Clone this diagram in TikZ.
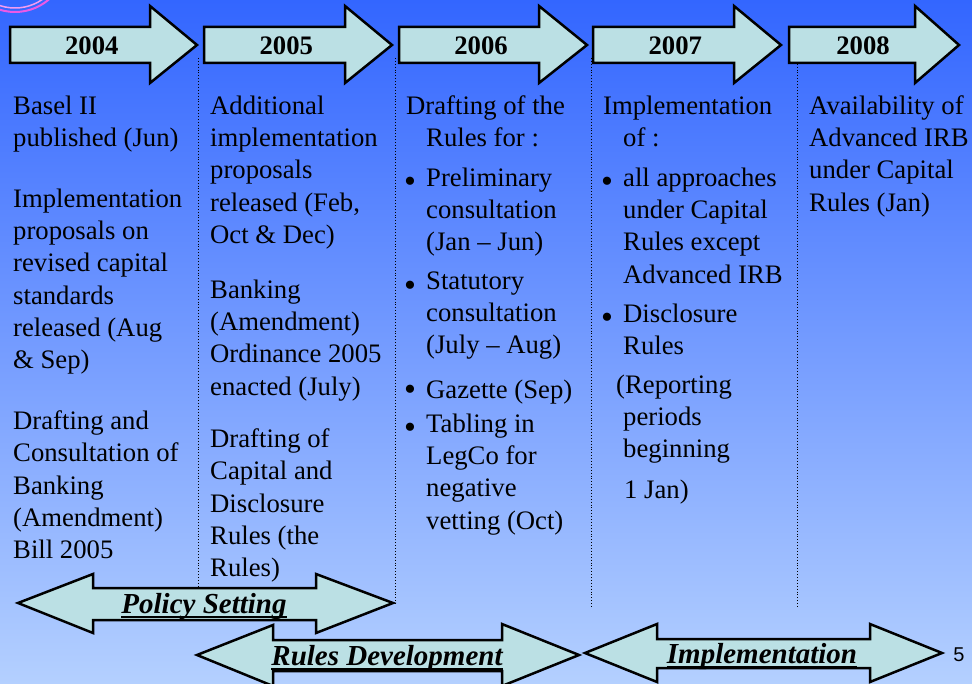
\documentclass[tikz,border=0pt]{standalone}
\usepackage{fontspec}
\setmainfont{Liberation Serif}
\setsansfont{Liberation Sans}
\usepackage{tikz}
\usetikzlibrary{positioning}

\definecolor{bgtop}{RGB}{51,102,255}
\definecolor{bgbottom}{RGB}{180,208,255}
\definecolor{arrowcol}{RGB}{187,224,228}
\definecolor{swirl}{RGB}{235,90,230}

% thick underline for the phase labels
\newcommand{\phaseul}[1]{\setbox0\hbox{#1}\rlap{\rule[-4.5pt]{\wd0}{1.8pt}}\box0}

\tikzset{
  arrowbox/.style={fill=arrowcol, draw=black, line width=2.5pt, line join=miter},
  yearlbl/.style={inner sep=0pt, font=\bfseries\fontsize{26.7}{32}\selectfont},
  txt/.style={anchor=north west, yshift=17.6pt, inner sep=0pt, align=left,
    font=\fontsize{26.7}{32.3}\selectfont, execute at begin node=\strut},
  bul/.style={txt, font=\fontsize{34}{32.3}\selectfont, yshift=-2pt},
  phase/.style={anchor=base, inner sep=0pt, font=\bfseries\itshape\fontsize{29}{32}\selectfont},
  sepline/.style={dotted, line width=0.9pt},
}

\begin{document}
\begin{tikzpicture}[x=1pt,y=-1pt]
  \useasboundingbox (0,0) rectangle (972,684);
  \shade[top color=bgtop, bottom color=bgbottom] (0,0) rectangle (972,684);
  \begin{scope}
    \clip (0,0) rectangle (972,684);
    \draw[swirl, line width=2pt] (15,-40) circle (52);
    \draw[swirl!60, line width=1.5pt] (15,-40) circle (48);
  \end{scope}

  % column separators
  \draw[sepline] (198,58) -- (198,588);
  \draw[sepline] (395,58) -- (395,604);
  \draw[sepline] (591,58) -- (591,607);
  \draw[sepline] (797,58) -- (797,607);

  % year arrows
  \foreach \x/\hb/\tip/\yr in {10/150/197/2004, 204/345/392/2005, 399/539/587/2006,
                              593/734/781/2007, 789/915/959/2008} {
    \draw[arrowbox] (\x,27) -- (\hb,27) -- (\hb,6) -- (\tip,45) -- (\hb,83)
      -- (\hb,63) -- (\x,63) -- cycle;
    \node[yearlbl] (y\yr) at ({(\x+(\hb+\tip)/2)/2},46) {\yr};
  }

  % 2004
  \node[txt] (c1a) at (13,113) {Basel II\\published (Jun)};
  \node[txt] (c1b) at (13,206) {Implementation\\proposals on\\revised capital\\standards\\released (Aug\\\& Sep)};
  \node[txt] (c1c) at (13,428) {Drafting and\\Consultation of\\Banking\\(Amendment)\\Bill 2005};

  % 2005
  \node[txt] (c2a) at (210,113) {Additional\\implementation\\proposals\\released (Feb,\\Oct \& Dec)};
  \node[txt] (c2b) at (210,297) {Banking\\(Amendment)\\Ordinance 2005\\enacted (July)};
  \node[txt] (c2c) at (210,446) {Drafting of\\Capital and\\Disclosure\\Rules (the\\Rules)};

  % 2006
  \node[txt] (c3a) at (406,113) {Drafting of the\\\hspace{20pt}Rules for :};
  \node[bul] (b3a) at (404,185) {•};
  \node[txt] (c3b) at (426,185) {Preliminary\\consultation\\(Jan – Jun)};
  \node[bul] (b3b) at (404,289) {•};
  \node[txt] (c3c) at (426,289) {Statutory\\consultation\\(July – Aug)};
  \node[bul] (b3c) at (404,393) {•};
  \node[txt] (c3d) at (426,393) {Gazette (Sep)};
  \node[bul] (b3d) at (404,431) {•};
  \node[txt] (c3e) at (426,431) {Tabling in\\LegCo for\\negative\\vetting (Oct)};

  % 2007
  \node[txt] (c4a) at (603,113) {Implementation\\\hspace{20pt}of :};
  \node[bul] (b4a) at (601,185) {•};
  \node[txt] (c4b) at (623,185) {all approaches\\under Capital\\Rules except\\Advanced IRB};
  \node[bul] (b4b) at (601,321) {•};
  \node[txt] (c4c) at (623,321) {Disclosure\\Rules};
  \node[txt] (c4d) at (616,392) {(Reporting\\\hspace{7pt}periods\\\hspace{7pt}beginning\\[8pt]\hspace{8pt}1 Jan)};

  % 2008
  \node[txt] (c5a) at (809,113) {Availability of\\Advanced IRB\\under Capital\\Rules (Jan)};

  % phase arrows
  \draw[arrowbox] (18,603) -- (93,574) -- (93,588) -- (316,588) -- (316,574) -- (393,603)
    -- (316,633) -- (316,620) -- (93,620) -- (93,633) -- cycle;
  \node[phase] (policy) at (204,613) {\phaseul{Policy Setting}};

  \draw[arrowbox] (197,655) -- (273,625) -- (273,640) -- (502,640) -- (502,624) -- (579,655)
    -- (502,686) -- (502,671) -- (273,671) -- (273,686) -- cycle;
  \node[phase] (rules) at (387,665) {\phaseul{Rules Development}};

  \draw[arrowbox] (585,653) -- (657,624) -- (657,639) -- (870,639) -- (870,624) -- (942,653)
    -- (870,682) -- (870,668) -- (657,668) -- (657,682) -- cycle;
  \node[phase] (impl) at (762,663) {\phaseul{Implementation}};

  \node[font=\sffamily\fontsize{20}{20}\selectfont, inner sep=0pt] (pg) at (959,655) {5};
\end{tikzpicture}
\end{document}
